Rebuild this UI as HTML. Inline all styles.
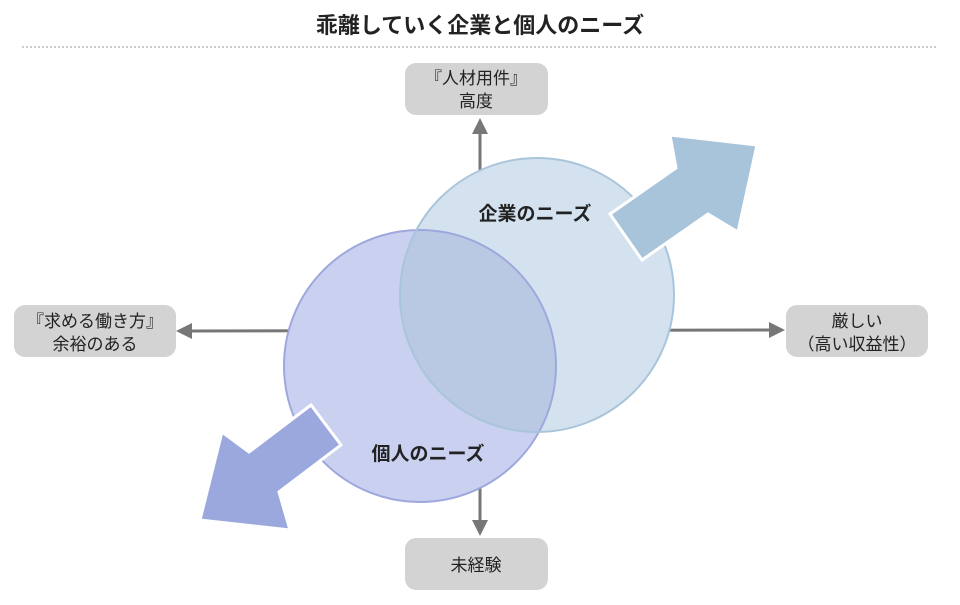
<!DOCTYPE html>
<html><head><meta charset="utf-8"><style>
html,body{margin:0;padding:0;background:#fff;}
body{width:960px;height:600px;overflow:hidden;font-family:"Liberation Sans","Noto Sans CJK JP",sans-serif;}
</style></head><body>
<svg width="960" height="600" viewBox="0 0 960 600" xmlns="http://www.w3.org/2000/svg" font-family="Liberation Sans, Noto Sans CJK JP, sans-serif">
<defs><clipPath id="c1"><circle cx="537" cy="295" r="137"/></clipPath></defs>
<text x="480" y="33" text-anchor="middle" font-size="22" font-weight="bold" fill="#222">乖離していく企業と個人のニーズ</text>
<line x1="22" y1="47" x2="937" y2="47" stroke="#999" stroke-dasharray="2,2" stroke-width="1"/>
<g stroke="#777" stroke-width="3">
<line x1="480" y1="133" x2="480" y2="520"/>
<line x1="192" y1="331" x2="770" y2="330"/>
</g>
<g fill="#777">
<polygon points="480,118 472,134 488,134"/>
<polygon points="480,536 472,520 488,520"/>
<polygon points="176,331 192,323 192,339"/>
<polygon points="785,330 769,322 769,338"/>
</g>
<g fill="#d3d3d3">
<rect x="405" y="63" width="143" height="52" rx="11"/>
<rect x="14" y="305" width="162" height="52" rx="11"/>
<rect x="786" y="305" width="142" height="52" rx="11"/>
<rect x="405" y="538" width="143" height="52" rx="11"/>
</g>
<g font-size="17" fill="#222" text-anchor="middle">
<text x="476" y="84">『人材用件』</text>
<text x="476" y="107">高度</text>
<text x="95" y="327">『求める働き方』</text>
<text x="95" y="350">余裕のある</text>
<text x="857" y="327">厳しい</text>
<text x="857" y="350">（高い収益性）</text>
<text x="476" y="571">未経験</text>
</g>
<circle cx="537" cy="295" r="137" fill="#d4e2ef"/>
<circle cx="420" cy="366" r="136" fill="#c9d0f0"/>
<circle cx="420" cy="366" r="136" fill="#b9c8e3" clip-path="url(#c1)"/>
<circle cx="420" cy="366" r="136" fill="none" stroke="#9ea8dc" stroke-width="2"/>
<circle cx="537" cy="295" r="137" fill="none" stroke="#a9c5dc" stroke-width="2"/>
<polygon points="610,214 676,168 670,135 757,145 738,232 708,214 642,260" fill="#a8c4db" stroke="#fff" stroke-width="3"/>
<polygon points="311,405 249,452 222,432 200,520 290,530 279,492 341,445" fill="#9ba8de" stroke="#fff" stroke-width="3"/>
<text x="535" y="220" text-anchor="middle" font-size="19" font-weight="bold" fill="#222">企業のニーズ</text>
<text x="428" y="460" text-anchor="middle" font-size="19" font-weight="bold" fill="#222">個人のニーズ</text>
</svg>
</body></html>
